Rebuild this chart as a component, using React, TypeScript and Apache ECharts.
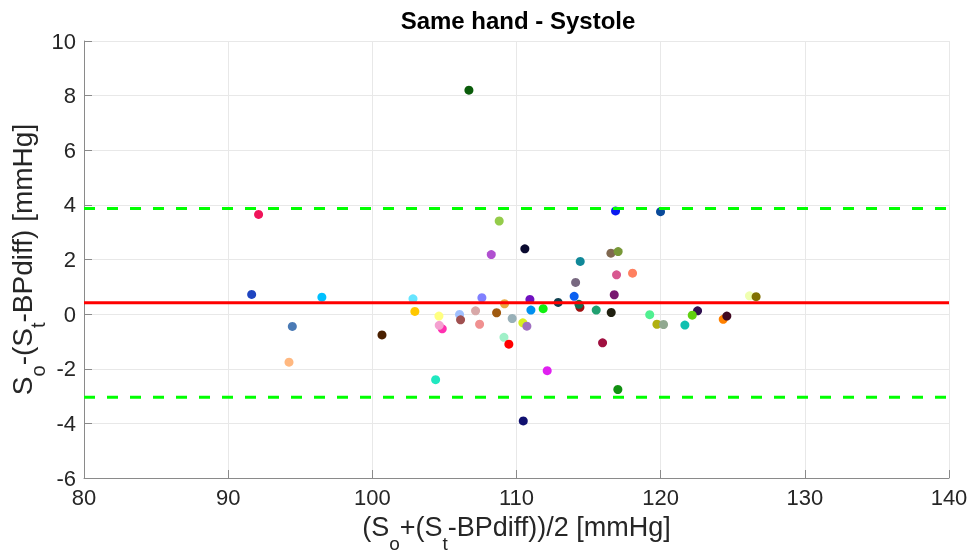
import React, { useEffect, useRef } from "react";
import * as echarts from "echarts";

const meanDiff = 0.42;
const upperLoA = 3.87;
const lowerLoA = -3.04;

const xRange = [80, 140];
const xTicks = [80, 90, 100, 110, 120, 130, 140];
const yTicks = [-6, -4, -2, 0, 2, 4, 6, 8, 10];

const meanValues = [92.11, 91.63, 96.5, 94.45, 94.22, 106.7, 108.8, 110.58, 108.25, 102.82, 102.95, 100.67, 104.62, 104.85, 104.64, 104.39, 106.05, 106.12, 107.16, 107.44, 107.6, 109.17, 108.62, 109.7, 109.13, 109.47, 110.44, 110.72, 110.93, 111.0, 111.85, 112.89, 112.13, 110.47, 116.87, 119.99, 116.55, 117.05, 114.42, 116.94, 118.05, 114.1, 114.0, 116.78, 114.4, 114.33, 115.53, 116.57, 115.97, 117.03, 119.24, 119.74, 120.2, 121.68, 122.56, 122.19, 124.34, 124.59, 126.16, 126.62];
const diffValues = [3.65, 0.72, 0.62, -0.45, -1.76, 8.2, 3.41, 2.39, 2.18, 0.56, 0.1, -0.76, -0.07, -0.54, -0.41, -2.4, -0.01, -0.21, 0.12, -0.37, 0.6, 0.38, 0.05, -0.16, -0.85, -1.1, -0.32, -0.44, 0.54, 0.15, 0.2, 0.43, -2.07, -3.91, 3.78, 3.75, 2.23, 2.29, 1.93, 1.44, 1.5, 1.16, 0.65, 0.71, 0.25, 0.36, 0.15, 0.06, -1.05, -2.76, -0.02, -0.37, -0.38, -0.4, 0.12, -0.04, -0.19, -0.07, 0.67, 0.64];
const pointColors = ["#f0145a", "#1f45c0", "#00c0ff", "#4a7ab5", "#ffb880", "#0a5c0a", "#94cc4a", "#0a0a30", "#b050d0", "#66e5ff", "#ffc800", "#4a2000", "#ffff80", "#ff30b0", "#f4a0d0", "#20e8c0", "#a0c0ff", "#a05050", "#d8a8a8", "#f09090", "#8080ff", "#e8a840", "#a05a10", "#98b0b8", "#a0f0c8", "#ff0000", "#d8f020", "#a070c0", "#7010c0", "#0090f0", "#10f010", "#104050", "#e020f0", "#101070", "#0a1af0", "#0a4a9a", "#806850", "#789838", "#108898", "#d85890", "#ff8060", "#786880", "#0a60f0", "#781870", "#a01010", "#107050", "#20a070", "#202010", "#a01040", "#109010", "#50f090", "#b0b010", "#90a890", "#10c0b0", "#301050", "#60d010", "#ff8000", "#400820", "#f0ffb0", "#807000"];

const FONT = "'Liberation Sans', Arial, Helvetica, sans-serif";

function nameStyle(main: number, sub: number) {
  return {
    color: "#262626",
    fontFamily: FONT,
    fontSize: main,
    rich: {
      a: { fontSize: main, fontFamily: FONT, color: "#262626", lineHeight: 52, verticalAlign: "middle" },
      s: { fontSize: sub, fontFamily: FONT, color: "#262626", lineHeight: sub, verticalAlign: "bottom" },
    },
  };
}

export default function App() {
  const ref = useRef<HTMLDivElement>(null);
  useEffect(() => {
    document.body.style.margin = "0";
    const chart = echarts.init(ref.current!, null, { renderer: "svg" });
    const axisCommon = {
      type: "value",
      axisLine: { show: true, onZero: false, lineStyle: { color: "#8a8a8a", width: 1 } },
      axisTick: { show: true, inside: true, length: 8, lineStyle: { color: "#8a8a8a" } },
      splitLine: { show: true, lineStyle: { color: "#e8e8e8", width: 1 } },
      axisLabel: { color: "#262626", fontSize: 22, fontFamily: FONT, margin: 8 },
      nameLocation: "middle",
      nameMoveOverlap: false,
    };
    const option = {
      animation: false,
      grid: { left: 84, top: 41, width: 865, height: 437, containLabel: false, outerBoundsMode: "none" },
      graphic: [
        {
          type: "text",
          x: 518,
          y: 20,
          style: {
            text: "Same hand - Systole",
            align: "center",
            verticalAlign: "middle",
            fontSize: 24,
            fontWeight: "bold",
            fontFamily: FONT,
            fill: "#000",
          },
        },
      ],
      xAxis: {
        ...axisCommon,
        min: xRange[0],
        max: xRange[1],
        interval: xTicks[1] - xTicks[0],
        name: "{a|(S}{s|o}{a|+(S}{s|t}{a|-BPdiff))/2 [mmHg]}",
        nameGap: 23,
        nameTextStyle: nameStyle(27, 19),
      },
      yAxis: {
        ...axisCommon,
        min: yTicks[0],
        max: yTicks[yTicks.length - 1],
        interval: yTicks[1] - yTicks[0],
        name: "{a|S}{s|o}{a|-(S}{s|t}{a|-BPdiff) [mmHg]}",
        nameGap: 36,
        nameRotate: 90,
        nameTextStyle: nameStyle(28, 20),
      },
      series: [
        {
          type: "scatter",
          symbol: "circle",
          symbolSize: 9,
          z: 2,
          data: meanValues.map((x, i) => ({
            value: [x, diffValues[i]],
            itemStyle: { color: pointColors[i], opacity: 1 },
          })),
        },
        {
          type: "line",
          z: 3,
          symbol: "none",
          data: [[xRange[0], meanDiff], [xRange[1], meanDiff]],
          lineStyle: { color: "#ff0000", width: 3, type: "solid" },
        },
        {
          type: "line",
          z: 3,
          symbol: "none",
          data: [[xRange[0], upperLoA], [xRange[1], upperLoA]],
          lineStyle: { color: "#00ff00", width: 3, type: [11, 12] },
        },
        {
          type: "line",
          z: 3,
          symbol: "none",
          data: [[xRange[0], lowerLoA], [xRange[1], lowerLoA]],
          lineStyle: { color: "#00ff00", width: 3, type: [11, 12] },
        },
      ],
    };
    chart.setOption(option as any);
    return () => chart.dispose();
  }, []);
  return <div ref={ref} style={{ position: "fixed", left: 0, top: 0, width: 973, height: 553 }} />;
}
